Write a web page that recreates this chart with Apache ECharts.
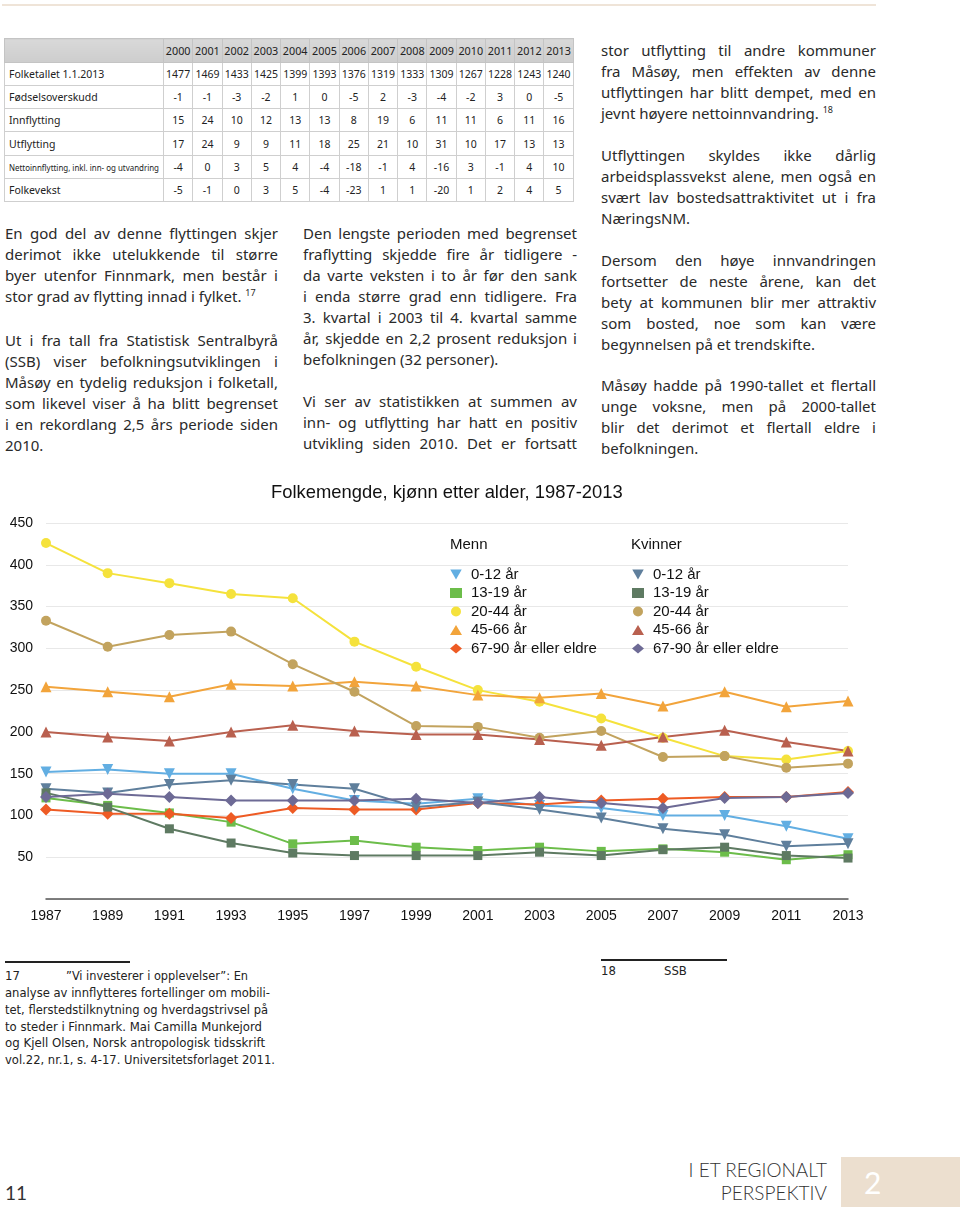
<!DOCTYPE html>
<html>
<head>
<meta charset="utf-8">
<script src="https://cdn.jsdelivr.net/npm/echarts@6/dist/echarts.min.js"></script>
<style>
  html, body { margin:0; padding:0; background:#fff; }
  body { width:960px; height:1209px; position:relative; overflow:hidden; font-family:"Noto Sans","Open Sans",sans-serif; color:#222; }
  .abs { position:absolute; }
  .ln { position:absolute; height:21px; line-height:21px; font-size:15px; white-space:nowrap; transform-origin:0 50%; color:#2a2a2a; }
  .ln sup { font-size:9px; vertical-align:6px; line-height:0; }
  table.t { position:absolute; left:4px; top:38px; border-collapse:collapse; table-layout:fixed; width:569px; font-family:"Noto Sans",sans-serif; font-size:10.5px; color:#222; }
  table.t td { border:1px solid #cfcfcf; height:22.3px; padding:0; text-align:center; white-space:nowrap; overflow:visible; }
  table.t td.lab { text-align:left; padding-left:4px; }
  table.t tr.hd td { background:linear-gradient(#d9d9d9,#cdcdcd); height:22.5px; border-color:#c4c4c4; font-size:10.8px; }
  .fn { position:absolute; font-family:"Liberation Sans Narrow","DejaVu Sans Condensed","Noto Sans",sans-serif; font-size:13px; line-height:16.8px; white-space:nowrap; color:#222; transform-origin:0 50%; }
</style>
</head>
<body>
<div class="abs" style="left:2px;top:4px;width:874px;height:2px;background:#efe4d8;"></div>
<table class="t" id="tbl"></table>
<div id="text"></div>
<div id="chart" class="abs" style="left:0;top:470px;width:960px;height:480px;"></div>

<div class="abs" style="left:5px;top:961px;width:125px;height:2px;background:#222;"></div>
<div class="abs" style="left:601px;top:959px;width:126px;height:2px;background:#222;"></div>
<div id="fn17"></div>
<div class="fn" style="left:601px;top:963px;">18</div>
<div class="fn" style="left:664px;top:963px;">SSB</div>

<div class="abs" style="left:5px;top:1181px;font-family:'Lato','Noto Sans',sans-serif;font-size:19px;color:#333;">11</div>
<div class="abs" style="right:133px;top:1158px;font-family:'Lato','Noto Sans',sans-serif;font-size:19px;line-height:23px;color:#333;text-align:right;font-weight:300;">I ET REGIONALT<br>PERSPEKTIV</div>
<div class="abs" style="left:841px;top:1157px;width:119px;height:50px;background:#ecdfcf;"></div>
<div class="abs" style="left:864px;top:1164px;font-family:'Lato','Noto Sans',sans-serif;font-size:30px;line-height:36px;color:#fff;">2</div>

<script>
// ---------- Table data ----------
const tableYears   = ['2000','2001','2002','2003','2004','2005','2006','2007','2008','2009','2010','2011','2012','2013'];
const folketall    = [1477,1469,1433,1425,1399,1393,1376,1319,1333,1309,1267,1228,1243,1240];
const fodsel       = [-1,-1,-3,-2,1,0,-5,2,-3,-4,-2,3,0,-5];
const innflytting  = [15,24,10,12,13,13,8,19,6,11,11,6,11,16];
const utflytting   = [17,24,9,9,11,18,25,21,10,31,10,17,13,13];
const netto        = [-4,0,3,5,4,-4,-18,-1,4,-16,3,-1,4,10];
const folkevekst   = [-5,-1,0,3,5,-4,-23,1,1,-20,1,2,4,5];

// ---------- Chart data ----------
const years = ['1987','1989','1991','1993','1995','1997','1999','2001','2003','2005','2007','2009','2011','2013'];
const yTicks = [50,100,150,200,250,300,350,400,450];
const menn0_12      = [152,155,150,150,132,118,114,120,112,109,100,100,87,72];
const menn13_19     = [121,112,103,92,66,70,62,58,62,57,60,56,47,53];
const menn20_44     = [426,390,378,365,360,308,278,250,236,216,193,171,167,177];
const menn45_66     = [254,248,242,257,255,260,255,244,241,246,231,248,230,237];
const menn67_90     = [107,102,102,97,109,107,107,115,113,118,120,122,122,128];
const kvinner0_12   = [132,127,137,142,137,132,110,116,107,97,84,77,63,66];
const kvinner13_19  = [127,110,84,67,55,52,52,52,56,52,59,62,52,49];
const kvinner20_44  = [333,302,316,320,281,248,207,206,193,201,170,171,157,162];
const kvinner45_66  = [200,194,189,200,208,201,197,197,191,184,194,202,188,177];
const kvinner67_90  = [122,126,122,118,118,118,120,115,122,115,109,121,122,127];

// ---------- Table build ----------
(function(){
  const rows = [
    ['', tableYears, true],
    ['Folketallet 1.1.2013', folketall],
    ['Fødselsoverskudd', fodsel],
    ['Innflytting', innflytting],
    ['Utflytting', utflytting],
    ['Nettoinnflytting, inkl. inn- og utvandring', netto],
    ['Folkevekst', folkevekst]
  ];
  const t = document.getElementById('tbl');
  let html = '<colgroup><col style="width:159px">';
  for (let i = 0; i < tableYears.length; i++) html += '<col style="width:29.28px">';
  html += '</colgroup>';
  rows.forEach(r => {
    html += '<tr' + (r[2] ? ' class="hd"' : '') + '>';
    const small = r[0].startsWith('Netto');
    html += '<td class="lab"><span class="fitc" style="display:inline-block;transform-origin:0 50%;' + (small ? 'font-size:9.5px;' : '') + '">' + r[0] + '</span></td>';
    r[1].forEach(v => { html += '<td><span class="fitn" style="display:inline-block;">' + v + '</span></td>'; });
    html += '</tr>';
  });
  t.innerHTML = html;
  document.querySelectorAll('.fitc').forEach(s => {
    const w = s.getBoundingClientRect().width;
    if (w > 150) s.style.transform = 'scaleX(' + (150 / w) + ')';
  });
  document.querySelectorAll('.fitn').forEach(s => {
    const w = s.getBoundingClientRect().width;
    if (w > 26) s.style.transform = 'scaleX(' + (26 / w) + ')';
  });
})();

// ---------- Body text ----------
const columns = [
  { x:5, w:273, paras:[
    { y:233, lines:['En god del av denne flyttingen skjer','derimot ikke utelukkende til større','byer utenfor Finnmark, men består i','stor grad av flytting innad i fylket. <sup>17</sup>'] },
    { y:340, lines:['Ut i fra tall fra Statistisk Sentralbyrå','(SSB) viser befolkningsutviklingen i','Måsøy en tydelig reduksjon i folketall,','som likevel viser å ha blitt begrenset','i en rekordlang 2,5 års periode siden','2010.'] }
  ]},
  { x:303, w:274, paras:[
    { y:233, lines:['Den lengste perioden med begrenset','fraflytting skjedde fire år tidligere -','da varte veksten i to år før den sank','i enda større grad enn tidligere. Fra','3. kvartal i 2003 til 4. kvartal samme','år, skjedde en 2,2 prosent reduksjon i','befolkningen (32 personer).'] },
    { y:401, lines:['Vi ser av statistikken at summen av','inn- og utflytting har hatt en positiv','utvikling siden 2010. Det er fortsatt'], justifyLast:true }
  ]},
  { x:601, w:275, paras:[
    { y:50, lines:['stor utflytting til andre kommuner','fra Måsøy, men effekten av denne','utflyttingen har blitt dempet, med en','jevnt høyere nettoinnvandring. <sup>18</sup>'] },
    { y:155, lines:['Utflyttingen skyldes ikke dårlig','arbeidsplassvekst alene, men også en','svært lav bostedsattraktivitet ut i fra','NæringsNM.'] },
    { y:260, lines:['Dersom den høye innvandringen','fortsetter de neste årene, kan det','bety at kommunen blir mer attraktiv','som bosted, noe som kan være','begynnelsen på et trendskifte.'] },
    { y:385, lines:['Måsøy hadde på 1990-tallet et flertall','unge voksne, men på 2000-tallet','blir det derimot et flertall eldre i','befolkningen.'] }
  ]}
];
(function(){
  const host = document.getElementById('text');
  columns.forEach(col => {
    col.paras.forEach(p => {
      p.lines.forEach((line, i) => {
        const d = document.createElement('div');
        d.className = 'ln';
        d.style.left = col.x + 'px';
        d.style.top = (p.y + i * 21 - 10.5) + 'px';
        d.innerHTML = line;
        host.appendChild(d);
        const w = d.getBoundingClientRect().width;
        const justify = (i < p.lines.length - 1) || p.justifyLast;
        if (w > col.w) {
          d.style.transform = 'scaleX(' + (col.w / w) + ')';
        } else if (justify) {
          const spaces = (line.match(/ /g) || []).length;
          if (spaces) d.style.wordSpacing = ((col.w - w) / spaces) + 'px';
        }
      });
    });
  });
  // footnote 17
  const fn = document.getElementById('fn17');
  const fl = [
    ['17', 5, 976], ['”Vi investerer i opplevelser”: En', 66, 976, 182],
    ['analyse av innflytteres fortellinger om mobili-', 5, 993, 265],
    ['tet, flerstedstilknytning og hverdagstrivsel på', 5, 1010, 263],
    ['to steder i Finnmark. Mai Camilla Munkejord', 5, 1027, 257],
    ['og Kjell Olsen, Norsk antropologisk tidsskrift', 5, 1043, 260],
    ['vol.22, nr.1, s. 4-17. Universitetsforlaget 2011.', 5, 1060, 270]
  ];
  fl.forEach(f => {
    const d = document.createElement('div');
    d.className = 'fn';
    d.style.left = f[1] + 'px';
    d.style.top = (f[2] - 8.4) + 'px';
    d.textContent = f[0];
    fn.appendChild(d);
    if (f[3]) {
      const w = d.getBoundingClientRect().width;
      d.style.transform = 'scaleX(' + (f[3] / w) + ')';
    }
  });
})();

// ---------- Chart ----------
const chart = echarts.init(document.getElementById('chart'), null, { renderer: 'canvas' });
const downTri = 'path://M0,0L10,0L5,8.7Z';
const specs = [
  { name:'Menn 0-12 år', data:menn0_12, color:'#62aee2', symbol:'triangle', rot:180, size:11, icon:downTri },
  { name:'Menn 13-19 år', data:menn13_19, color:'#6cbd4a', symbol:'rect', size:9, icon:'rect' },
  { name:'Menn 20-44 år', data:menn20_44, color:'#f5e23c', symbol:'circle', size:10, icon:'circle' },
  { name:'Menn 45-66 år', data:menn45_66, color:'#f2a43b', symbol:'triangle', size:11, icon:'triangle' },
  { name:'Menn 67-90 år eller eldre', data:menn67_90, color:'#ee5b24', symbol:'diamond', size:12, icon:'diamond' },
  { name:'Kvinner 0-12 år', data:kvinner0_12, color:'#5f7f9c', symbol:'triangle', rot:180, size:11, icon:downTri },
  { name:'Kvinner 13-19 år', data:kvinner13_19, color:'#5e7a62', symbol:'rect', size:9, icon:'rect' },
  { name:'Kvinner 20-44 år', data:kvinner20_44, color:'#c2a35e', symbol:'circle', size:10, icon:'circle' },
  { name:'Kvinner 45-66 år', data:kvinner45_66, color:'#b9604f', symbol:'triangle', size:11, icon:'triangle' },
  { name:'Kvinner 67-90 år eller eldre', data:kvinner67_90, color:'#6d6a95', symbol:'diamond', size:12, icon:'diamond' }
];
const FONT = '"Liberation Sans", Arial, Helvetica, sans-serif';
const mkLegend = (prefix, left) => ({
  orient:'vertical', left:left, top:92, itemWidth:12, itemHeight:10, itemGap:3.5,
  textStyle:{ fontFamily:FONT, fontSize:15, color:'#111', padding:[0,0,0,4] },
  formatter: n => n.replace(/^(Menn|Kvinner) /, ''),
  data: specs.filter(s => s.name.startsWith(prefix)).map(s => ({ name:s.name, icon:s.icon, itemStyle:{ color:s.color } })),
  selectedMode:false
});
chart.setOption({
  animation:false,
  backgroundColor:'transparent',
  graphic:[
    { type:'text', left:271, top:14, style:{ text:'Folkemengde, kjønn etter alder, 1987-2013', font:'18.4px ' + FONT, fill:'#111' } },
    { type:'text', left:450, top:67, style:{ text:'Menn', font:'15px ' + FONT, fill:'#111' } },
    { type:'text', left:631, top:67, style:{ text:'Kvinner', font:'15px ' + FONT, fill:'#111' } }
  ],
  legend:[ mkLegend('Menn', 445), mkLegend('Kvinner', 627) ],
  grid:{ left:46, right:112, top:53, bottom:51, containLabel:false },
  xAxis:{
    type:'category', data:years, boundaryGap:false,
    axisLine:{ show:true, lineStyle:{ color:'#555', width:1.5 } },
    axisTick:{ show:false },
    axisLabel:{ fontFamily:FONT, fontSize:14, color:'#111', margin:10, interval:0 },
    splitLine:{ show:false }
  },
  yAxis:{
    type:'value', min:0, max:450, interval:50,
    axisLine:{ show:false }, axisTick:{ show:false },
    axisLabel:{ fontFamily:FONT, fontSize:14, color:'#111', margin:13, formatter: v => (yTicks.indexOf(v) >= 0 ? String(v) : '') },
    splitLine:{ show:true, lineStyle:{ color:'#e8e8e8', width:1 } }
  },
  series: specs.map(s => ({
    name:s.name, type:'line', data:s.data,
    symbol:s.symbol, symbolSize:s.size, symbolRotate:s.rot || 0, showSymbol:true,
    lineStyle:{ color:s.color, width:2 },
    itemStyle:{ color:s.color },
    emphasis:{ disabled:true }
  }))
});
</script>
</body>
</html>
